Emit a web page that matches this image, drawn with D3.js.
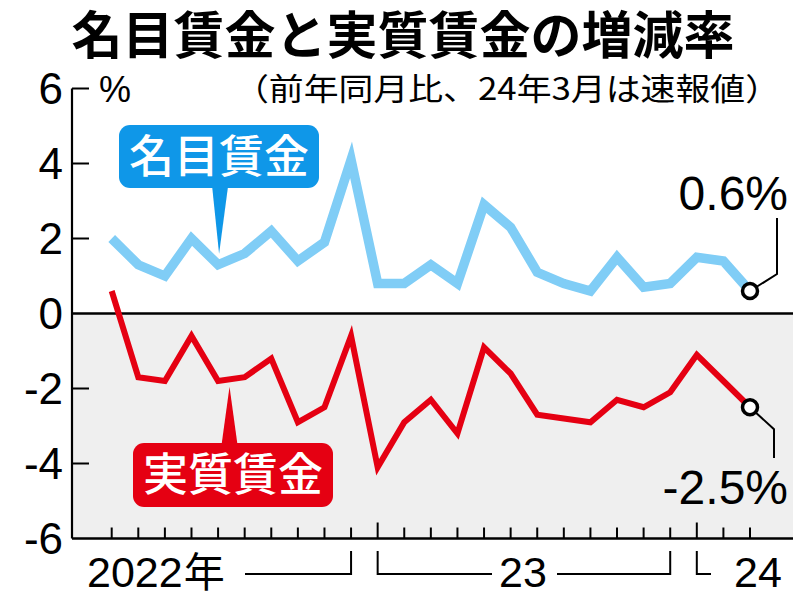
<!DOCTYPE html>
<html>
<head>
<meta charset="utf-8">
<script src="https://cdn.jsdelivr.net/npm/d3@7"></script>
<style>
  body { margin: 0; background: #fff; }
  svg { display: block; }
</style>
</head>
<body>
<script>
// months Mar 2022 .. Mar 2024
const months = ['2022-03','2022-04','2022-05','2022-06','2022-07','2022-08','2022-09','2022-10','2022-11','2022-12',
  '2023-01','2023-02','2023-03','2023-04','2023-05','2023-06','2023-07','2023-08','2023-09','2023-10','2023-11','2023-12',
  '2024-01','2024-02','2024-03'];
const nominal = [2.0, 1.3, 1.0, 2.0, 1.3, 1.6, 2.2, 1.4, 1.9, 4.1,
  0.8, 0.8, 1.3, 0.8, 2.9, 2.3, 1.1, 0.8, 0.6, 1.5, 0.7, 0.8,
  1.5, 1.4, 0.6];
const real = [0.6, -1.7, -1.8, -0.6, -1.8, -1.7, -1.2, -2.9, -2.5, -0.6,
  -4.1, -2.9, -2.3, -3.2, -0.9, -1.6, -2.7, -2.8, -2.9, -2.3, -2.5, -2.1,
  -1.1, -1.8, -2.5];
const yTicks = [6, 4, 2, 0, -2, -4, -6];

const width = 800, height = 594;
const plotLeft = 72, plotRight = 793;
const jp = '"Noto Sans CJK JP", sans-serif';
const num = '"Liberation Sans", Arial, sans-serif';

const svg = d3.select('body').append('svg')
    .attr('width', width)
    .attr('height', height);

const x = d3.scaleLinear().domain([0, months.length - 1]).range([111.7, 750]);
const y = d3.scaleLinear().domain([-6, 6]).range([538.5, 88.5]);

// title
svg.append('text')
    .attr('x', 403).attr('y', 54)
    .attr('text-anchor', 'middle')
    .attr('font-family', jp).attr('font-weight', 700)
    .attr('font-size', 51)
    .text('名目賃金と実質賃金の増減率');

svg.append('text')
    .attr('x', 234).attr('y', 100)
    .attr('font-family', jp).attr('font-size', 31)
    .attr('textLength', 546).attr('lengthAdjust', 'spacingAndGlyphs')
    .text('（前年同月比、24年3月は速報値）');

svg.append('text')
    .attr('x', 99).attr('y', 102)
    .attr('font-family', num).attr('font-size', 36)
    .text('%');

// negative background
svg.append('rect')
    .attr('x', plotLeft).attr('y', y(0))
    .attr('width', plotRight - plotLeft).attr('height', y(-6) - y(0))
    .attr('fill', '#efefef');

// y axis
svg.append('line')
    .attr('x1', plotLeft).attr('x2', plotLeft)
    .attr('y1', y(6)).attr('y2', y(-6))
    .attr('stroke', '#000').attr('stroke-width', 2.2);

yTicks.filter(d => d !== 0 && d !== -6).forEach(d => {
    svg.append('line')
        .attr('x1', plotLeft).attr('x2', plotLeft + 17)
        .attr('y1', y(d)).attr('y2', y(d))
        .attr('stroke', '#000').attr('stroke-width', 2);
});

svg.selectAll('.ylab').data(yTicks).enter().append('text')
    .attr('x', 63).attr('y', d => y(d))
    .attr('dy', '0.36em')
    .attr('text-anchor', 'end')
    .attr('font-family', num).attr('font-size', 44)
    .text(d => d);

// zero line and bottom axis
[0, -6].forEach(v => {
    svg.append('line')
        .attr('x1', plotLeft).attr('x2', plotRight)
        .attr('y1', y(v)).attr('y2', y(v))
        .attr('stroke', '#000').attr('stroke-width', 2.4);
});

// month ticks
svg.selectAll('.xtick').data(months).enter().append('line')
    .attr('x1', (d, i) => x(i)).attr('x2', (d, i) => x(i))
    .attr('y1', y(-6))
    .attr('y2', d => y(-6) - (d.endsWith('-01') ? 16 : 11))
    .attr('stroke', '#000').attr('stroke-width', 2);

// year brackets
const by1 = 551, by2 = 574;
const bracket = d3.path();
bracket.moveTo(245, by2); bracket.lineTo(x(9), by2); bracket.lineTo(x(9), by1);
bracket.moveTo(x(10), by1); bracket.lineTo(x(10), by2); bracket.lineTo(492, by2);
bracket.moveTo(557, by2); bracket.lineTo(x(21), by2); bracket.lineTo(x(21), by1);
bracket.moveTo(x(22), by1); bracket.lineTo(x(22), by2); bracket.lineTo(711, by2);
svg.append('path').attr('d', bracket.toString())
    .attr('fill', 'none').attr('stroke', '#000').attr('stroke-width', 2);

const yearLab = svg.append('text')
    .attr('x', 87).attr('y', 587)
    .attr('font-family', num).attr('font-size', 43);
yearLab.append('tspan').text('2022');
yearLab.append('tspan').attr('font-family', jp).attr('font-size', 41).attr('dx', 1).text('年');

svg.append('text')
    .attr('x', 523).attr('y', 587).attr('text-anchor', 'middle')
    .attr('font-family', num).attr('font-size', 43)
    .text('23');
svg.append('text')
    .attr('x', 758).attr('y', 587).attr('text-anchor', 'middle')
    .attr('font-family', num).attr('font-size', 43)
    .text('24');

// lines
const line = d3.line()
    .x((d, i) => x(i))
    .y(d => y(d));

svg.append('path')
    .datum(nominal)
    .attr('d', line)
    .attr('fill', 'none')
    .attr('stroke', '#80cdf6')
    .attr('stroke-width', 9.5)
    .attr('stroke-linejoin', 'miter');

svg.append('path')
    .datum(real)
    .attr('d', line)
    .attr('fill', 'none')
    .attr('stroke', '#e50012')
    .attr('stroke-width', 6)
    .attr('stroke-linejoin', 'miter');

// end markers with leaders
const last = months.length - 1;
const ex = x(last);

svg.append('path')
    .attr('d', `M${ex},${y(nominal[last])} L${ex + 27},${y(nominal[last]) - 17} L${ex + 27},218`)
    .attr('fill', 'none').attr('stroke', '#000').attr('stroke-width', 2);
svg.append('path')
    .attr('d', `M${ex},${y(real[last])} L${ex + 24},${y(real[last]) + 22} L${ex + 24},458`)
    .attr('fill', 'none').attr('stroke', '#000').attr('stroke-width', 2);

[nominal[last], real[last]].forEach(v => {
    svg.append('circle')
        .attr('cx', ex).attr('cy', y(v)).attr('r', 7.5)
        .attr('fill', '#fff').attr('stroke', '#000').attr('stroke-width', 3.5);
});

svg.append('text')
    .attr('x', 788).attr('y', 210).attr('text-anchor', 'end')
    .attr('font-family', num).attr('font-size', 48)
    .text(nominal[last] + '%');
svg.append('text')
    .attr('x', 788).attr('y', 504).attr('text-anchor', 'end')
    .attr('font-family', num).attr('font-size', 48)
    .text(real[last] + '%');

// series callouts
function callout(bx, by, bw, bh, tipX, tipY, baseX, baseY, color, label) {
    const g = svg.append('g');
    g.append('path')
        .attr('d', `M${baseX - 8},${baseY} L${tipX},${tipY} L${baseX + 8},${baseY} Z`)
        .attr('fill', color);
    g.append('rect')
        .attr('x', bx).attr('y', by).attr('width', bw).attr('height', bh)
        .attr('rx', 11).attr('fill', color);
    g.append('text')
        .attr('x', bx + bw / 2).attr('y', by + bh / 2)
        .attr('dy', '0.36em')
        .attr('text-anchor', 'middle')
        .attr('font-family', jp).attr('font-weight', 500)
        .attr('font-size', 45).attr('fill', '#fff')
        .text(label);
}

callout(119, 125, 200, 63, x(4) + 1, y(nominal[4]) - 11, x(4) + 2, 186, '#0f97e8', '名目賃金');
callout(133, 443, 200, 64, x(4.43), y(-1.74) + 8, x(4.43), 445, '#e50012', '実質賃金');
</script>
</body>
</html>
